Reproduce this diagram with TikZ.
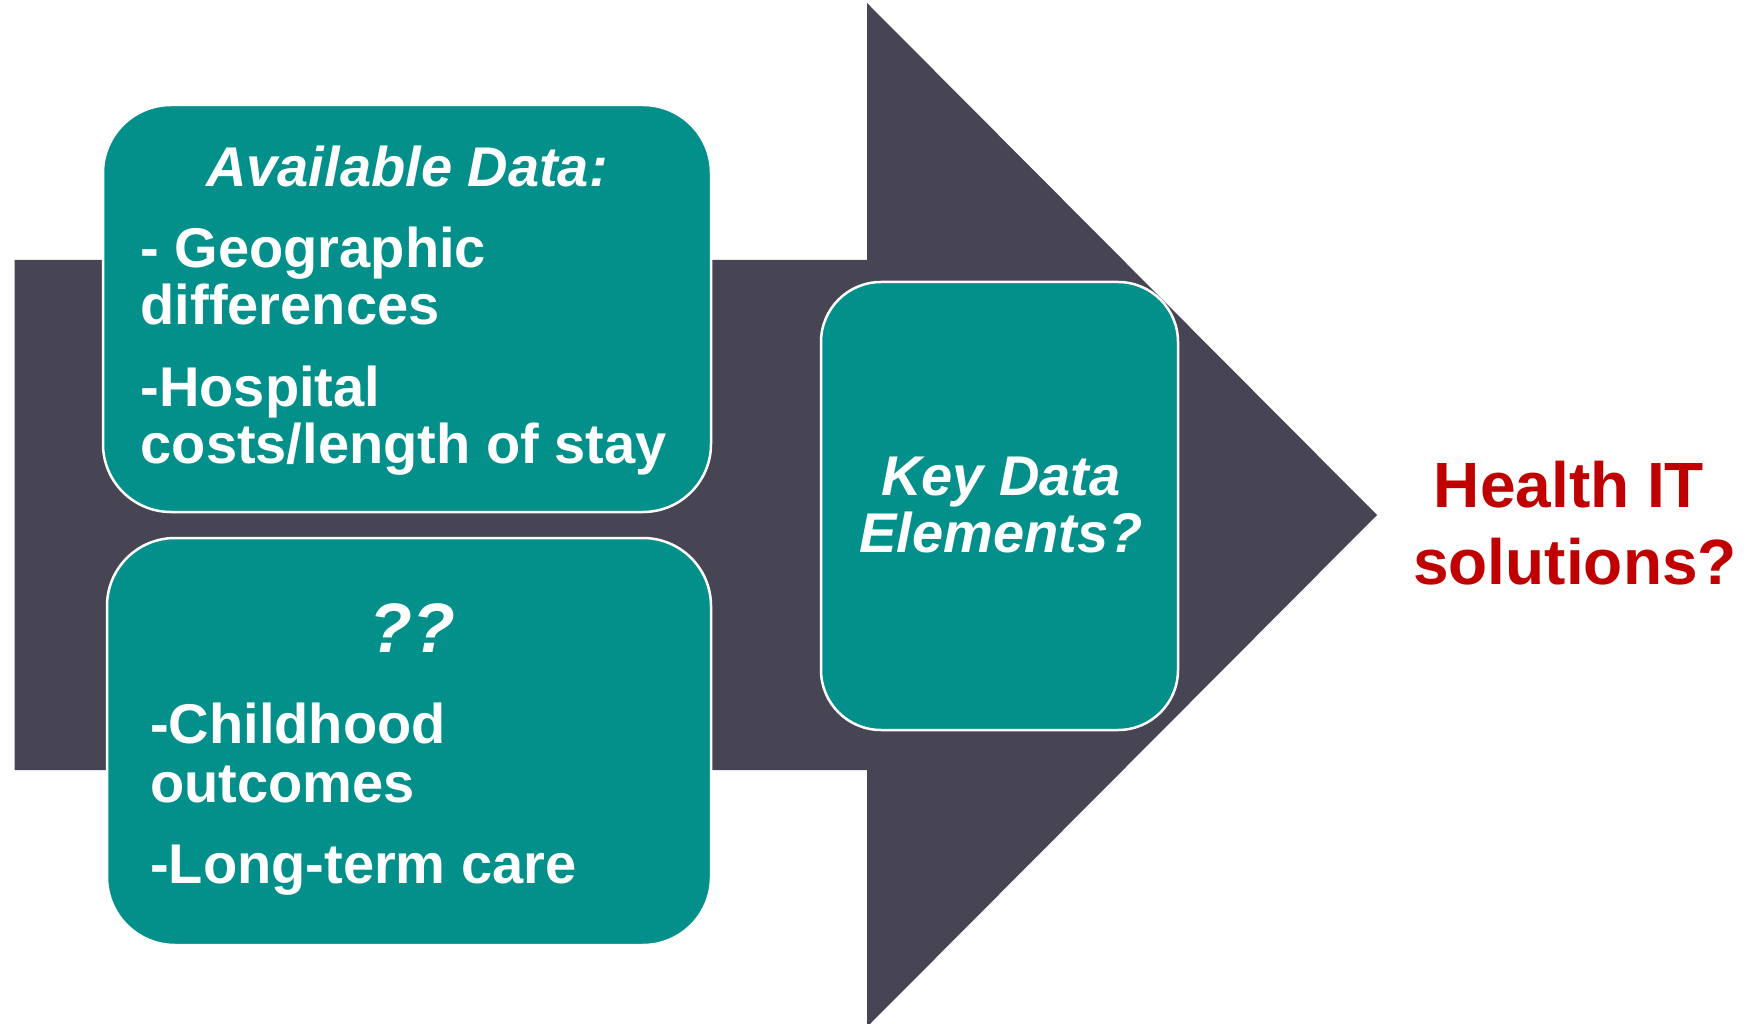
\documentclass[tikz,border=0pt]{standalone}
\usepackage{fontspec}
\setmainfont{Liberation Sans}
\definecolor{teal}{HTML}{038F8A}
\definecolor{arrowgray}{HTML}{474554}
\definecolor{darkred}{HTML}{C00000}
\begin{document}
\begin{tikzpicture}[x=1pt,y=-1pt,
  box/.style={draw=white, line width=2.5pt, fill=teal, rounded corners=#1, inner sep=0pt, outer sep=0pt},
  txt/.style={text=white, inner sep=0pt, anchor=base west, font=\fontsize{56}{56}\selectfont\bfseries},
  ttl/.style={text=white, inner sep=0pt, anchor=base, font=\fontsize{56}{56}\selectfont\bfseries\itshape},
  red/.style={text=darkred, inner sep=0pt, anchor=base, font=\fontsize{64}{64}\selectfont\bfseries}]
\useasboundingbox (0,0) rectangle (1762,1024);
\clip (0,0) rectangle (1762,1024);
% big arrow
\fill[arrowgray] (14.5,260) -- (867,260) -- (867,3) -- (1377,515) -- (867,1027) -- (867,770) -- (14.5,770) -- cycle;
% boxes
\draw[box=68] (103,105) rectangle (711,512);
\draw[box=68] (107,538) rectangle (711,945);
\draw[box=60] (821,282) rectangle (1178,730);
% box 1 text
\node[ttl] (t1) at (407,187) {Available Data:};
\node[txt] (t2) at (140.5,268) {- Geographic};
\node[txt] (t3) at (140.5,325) {differences};
\node[txt] (t4) at (140.5,406) {-Hospital};
\node[txt] (t5) at (140.5,463) {costs/length of stay};
% box 2 text
\node[ttl, font=\fontsize{70}{70}\selectfont\bfseries\itshape] (q1) at (412,652) {??};
\node[txt] (q2) at (150,743) {-Childhood};
\node[txt] (q3) at (150,802) {outcomes};
\node[txt] (q4) at (150,883) {-Long-term care};
% box 3 text
\node[ttl] (k1) at (1001,495) {Key Data};
\node[ttl] (k2) at (1001,552) {Elements?};
% red text
\node[red] (h1) at (1569,507) {Health IT};
\node[red] (h2) at (1575,584) {solutions?};
\end{tikzpicture}
\end{document}
